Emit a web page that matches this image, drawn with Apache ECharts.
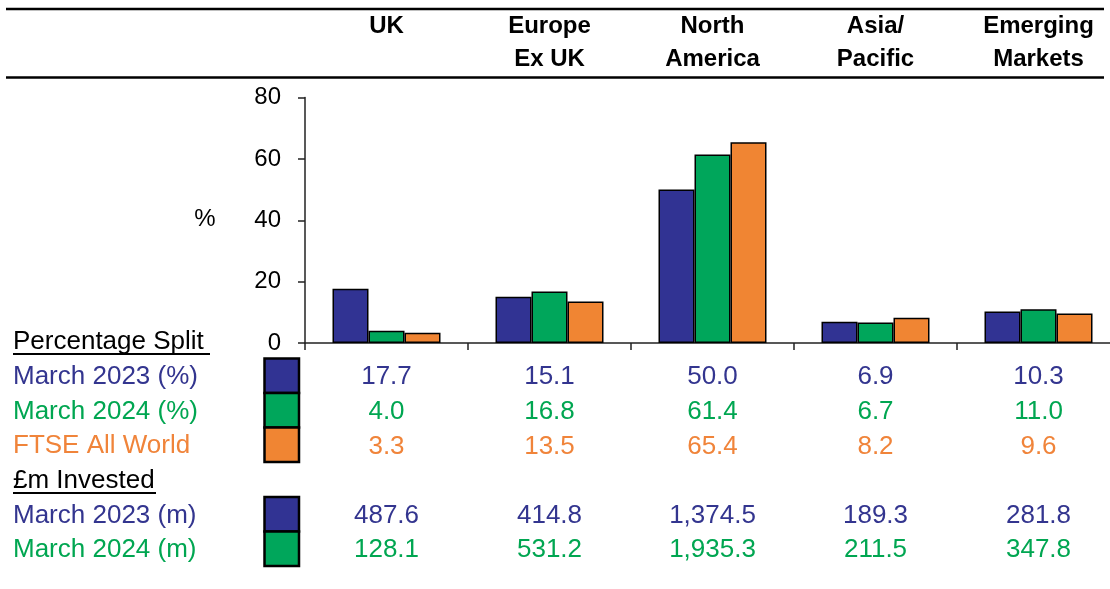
<!DOCTYPE html>
<html>
<head>
<meta charset="utf-8">
<script src="https://cdn.jsdelivr.net/npm/echarts@6/dist/echarts.min.js"></script>
<style>
  html, body { margin: 0; padding: 0; background: #ffffff; }
  #chart { width: 1110px; height: 589px; }
</style>
</head>
<body>
<div id="chart"></div>
<script>
// Regional split of the portfolio
const regions = ['UK', 'Europe Ex UK', 'North America', 'Asia/Pacific', 'Emerging Markets'];
const headerLines = [['UK', ''], ['Europe', 'Ex UK'], ['North', 'America'], ['Asia/', 'Pacific'], ['Emerging', 'Markets']];

// Percentage split
const pctMarch2023 = [17.7, 15.1, 50.0, 6.9, 10.3];
const pctMarch2024 = [4.0, 16.8, 61.4, 6.7, 11.0];
const pctFtseAllWorld = [3.3, 13.5, 65.4, 8.2, 9.6];

// £m invested
const investedMarch2023 = [487.6, 414.8, 1374.5, 189.3, 281.8];
const investedMarch2024 = [128.1, 531.2, 1935.3, 211.5, 347.8];

const yMin = 0, yMax = 80, yStep = 20;

const seriesNames = ['March 2023 (%)', 'March 2024 (%)', 'FTSE All World'];
const investedNames = ['March 2023 (m)', 'March 2024 (m)'];

const BLUE = '#313393', GREEN = '#00a65b', ORANGE = '#f08533';
const TXT_BLUE = '#33358f', TXT_GREEN = '#00a651', TXT_ORANGE = '#f0843a';
const FONT = '"Liberation Sans", Arial, Helvetica, sans-serif';
const ROW_H = 34.6;

const fmt = v => v.toLocaleString('en-GB', { minimumFractionDigits: 1, maximumFractionDigits: 1 });

const chart = echarts.init(document.getElementById('chart'), null, { renderer: 'canvas' });

// Left-hand table labels, underlines and colour keys
const leftRows = [
  { text: 'Percentage Split', color: '#000', y: 342 },
  { text: seriesNames[0], color: TXT_BLUE, y: 377 },
  { text: seriesNames[1], color: TXT_GREEN, y: 411.6 },
  { text: seriesNames[2], color: TXT_ORANGE, y: 446.2 },
  { text: '£m Invested', color: '#000', y: 480.8 },
  { text: investedNames[0], color: TXT_BLUE, y: 515.4 },
  { text: investedNames[1], color: TXT_GREEN, y: 550 }
];
const graphics = leftRows.map(r => ({
  type: 'text', left: 13, top: r.y, z: 10,
  style: { text: r.text, fill: r.color, font: '26px ' + FONT, textVerticalAlign: 'middle' }
}));
graphics.forEach(g => { delete g.top; g.x = 13; g.y = leftRows[graphics.indexOf(g)].y; delete g.left; });

const lines = [
  [6, 9, 1104, 9, 2.5],
  [6, 77.5, 1104, 77.5, 2.5],
  [13, 354, 210, 354, 2],
  [13, 493, 156, 493, 2]
];
lines.forEach(l => graphics.push({
  type: 'line', z: 10,
  shape: { x1: l[0], y1: l[1], x2: l[2], y2: l[3] },
  style: { stroke: '#000', lineWidth: l[4] }
}));

const swatches = [
  [358.5, BLUE], [393, GREEN], [427.5, ORANGE],
  [497, BLUE], [531.5, GREEN]
];
swatches.forEach(s => graphics.push({
  type: 'rect', z: 10,
  shape: { x: 264.5, y: s[0], width: 34.5, height: 34.5 },
  style: { fill: s[1], stroke: '#000', lineWidth: 2.5 }
}));

graphics.push({
  type: 'text', z: 10, x: 205, y: 219,
  style: { text: '%', fill: '#000', font: '24px ' + FONT, textAlign: 'center', textVerticalAlign: 'middle' }
});

// Rows of values under each region
const valueRows = [
  { data: pctMarch2023, style: 'a' },
  { data: pctMarch2024, style: 'b' },
  { data: pctFtseAllWorld, style: 'c' },
  { data: null, style: 'a' },
  { data: investedMarch2023, style: 'a' },
  { data: investedMarch2024, style: 'b' }
];
const tableFormatter = (value, idx) => valueRows
  .map(r => '{' + r.style + '|' + (r.data ? fmt(r.data[idx]) : ' ') + '}')
  .join('\n');

const richCell = c => ({ color: c, fontSize: 26, fontFamily: FONT, lineHeight: ROW_H, align: 'center' });

const makeBar = (name, data, color) => ({
  name, type: 'bar', data,
  barWidth: 36, barGap: '0%',
  itemStyle: { color, borderColor: '#000', borderWidth: 1.5 },
  emphasis: { disabled: true }
});

chart.setOption({
  animation: false,
  backgroundColor: '#ffffff',
  textStyle: { fontFamily: FONT },
  grid: { left: 305, right: -10, top: 97.5, bottom: 246, outerBoundsMode: 'none' },
  xAxis: [
    {
      type: 'category', data: regions, position: 'bottom',
      axisLine: { lineStyle: { color: '#222', width: 1.5 } },
      axisTick: { show: true, length: 7, lineStyle: { color: '#222', width: 1.5 } },
      axisLabel: {
        interval: 0, margin: 17, verticalAlign: 'top',
        formatter: tableFormatter,
        rich: { a: richCell(TXT_BLUE), b: richCell(TXT_GREEN), c: richCell(TXT_ORANGE) }
      },
      splitLine: { show: false }
    },
    {
      type: 'category', data: regions, position: 'top',
      axisLine: { show: false }, axisTick: { show: false }, splitLine: { show: false },
      axisLabel: {
        interval: 0, margin: 88, verticalAlign: 'top',
        formatter: (value, idx) => headerLines[idx].map(t => '{h|' + (t || ' ') + '}').join('\n'),
        rich: { h: { fontSize: 24, fontWeight: 'bold', color: '#000', fontFamily: FONT, lineHeight: 33, align: 'center' } }
      }
    }
  ],
  yAxis: {
    type: 'value', min: yMin, max: yMax, interval: yStep,
    axisLine: { show: true, lineStyle: { color: '#222', width: 1.5 } },
    axisTick: { show: true, length: 7, lineStyle: { color: '#222', width: 1.5 } },
    axisLabel: { color: '#000', fontSize: 24, fontFamily: FONT, margin: 24 },
    splitLine: { show: false }
  },
  series: [
    makeBar(seriesNames[0], pctMarch2023, BLUE),
    makeBar(seriesNames[1], pctMarch2024, GREEN),
    makeBar(seriesNames[2], pctFtseAllWorld, ORANGE)
  ],
  graphic: graphics
});
</script>
</body>
</html>
